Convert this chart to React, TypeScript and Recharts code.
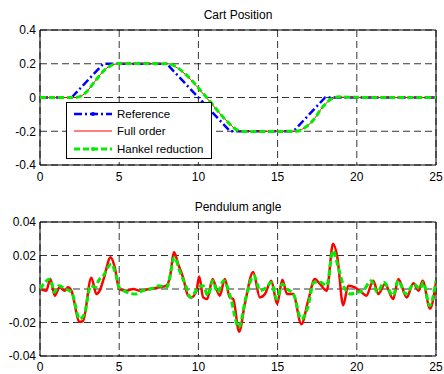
import { CartesianGrid, Line, LineChart, ReferenceArea, XAxis, YAxis } from "recharts";

// time axis ticks
const timeTicks = [0, 5, 10, 15, 20, 25];
const posTicks = [-0.4, -0.2, 0, 0.2, 0.4];
const angleTicks = [-0.04, -0.02, 0, 0.02, 0.04];

// cart position: reference trajectory
const refT = [0, 2, 4, 8, 12, 16, 18, 25];
const refPos = [0, 0, 0.2, 0.2, -0.2, -0.2, 0, 0];

// cart position: closed-loop responses
const respT = [0, 2.2, 2.5, 2.9, 3.5, 4.1, 4.6, 5.0, 8.1, 8.5, 9.2, 10.5, 11.8, 12.4, 12.9, 16.2, 16.6, 17.2, 17.9, 18.4, 18.9, 19.5, 25];
const fullPos = [0, 0, 0.005, 0.03, 0.1, 0.165, 0.195, 0.2, 0.2, 0.185, 0.135, 0, -0.14, -0.19, -0.2, -0.2, -0.185, -0.14, -0.05, -0.01, 0.003, 0, 0];
const hankelPos = [0, 0, 0.005, 0.03, 0.1, 0.165, 0.195, 0.202, 0.2, 0.187, 0.137, 0.002, -0.14, -0.19, -0.202, -0.2, -0.186, -0.14, -0.05, -0.008, 0.004, 0.001, 0];

// pendulum angle
const fullT = [0, 0.4, 0.65, 0.93, 1.24, 1.56, 1.77, 1.98, 2.5, 2.72, 3.24, 3.56, 3.77, 4.02, 4.46, 4.72, 5.0, 5.45, 5.9, 6.3, 6.9, 7.56, 7.98, 8.2, 8.47, 8.72, 9.03, 9.35, 9.56, 9.88, 10.05, 10.3, 10.55, 10.9, 11.14, 11.35, 11.67, 11.98, 12.2, 12.57, 12.93, 13.46, 13.88, 14.2, 14.6, 14.97, 15.3, 15.6, 15.98, 16.5, 16.93, 17.35, 17.67, 18.1, 18.5, 18.77, 19.14, 19.46, 19.88, 20.3, 20.6, 21.04, 21.36, 21.78, 22.3, 22.62, 23.15, 23.57, 23.9, 24.16, 24.62, 25];
const fullAngle = [0, -0.001, 0.006, -0.004, 0.001, -0.001, 0.001, -0.001, -0.0196, -0.019, 0.0067, -0.003, -0.001, 0.006, 0.019, 0.013, 0, -0.001, 0, -0.001, 0, 0.001, 0.002, 0.007, 0.022, 0.015, 0.007, -0.004, -0.005, -0.001, 0.0075, -0.005, -0.006, 0.006, 0, -0.004, 0.006, -0.005, -0.006, -0.0255, -0.009, 0.0101, -0.005, -0.003, 0.005, -0.009, 0.0055, -0.003, -0.003, -0.021, -0.007, 0.006, 0.003, -0.001, 0.027, 0.019, -0.0097, 0.002, 0.001, -0.002, -0.004, 0.005, -0.003, 0.003, -0.006, 0.006, -0.005, 0.0035, -0.001, 0.005, -0.0117, 0.004];

const hankelT = [0, 0.65, 0.9, 1.2, 1.6, 2.0, 2.5, 2.8, 3.2, 3.5, 3.7, 4.0, 4.5, 4.8, 5.0, 5.5, 6.0, 6.5, 7.0, 7.5, 8.0, 8.5, 8.8, 9.2, 9.5, 10.0, 10.3, 10.6, 10.9, 11.2, 11.6, 12.0, 12.55, 13.0, 13.5, 13.9, 14.3, 14.6, 14.95, 15.3, 15.6, 16.0, 16.5, 16.9, 17.3, 17.7, 18.1, 18.5, 18.8, 19.2, 19.6, 20.0, 20.4, 20.9, 21.3, 21.7, 22.3, 22.6, 23.1, 23.6, 24.0, 24.2, 24.6, 25];
const hankelAngle = [0, 0.006, -0.002, 0.002, 0, -0.002, -0.018, -0.015, 0.002, 0.001, 0.005, 0.008, 0.015, 0.008, 0.001, -0.002, -0.003, -0.001, 0, 0.002, 0.001, 0.019, 0.011, 0.002, -0.005, 0.001, 0.002, -0.004, 0.005, -0.002, 0.005, -0.004, -0.023, -0.005, 0.008, -0.001, 0.001, 0.004, -0.006, 0.003, 0, -0.003, -0.018, -0.011, 0.004, 0.004, 0.002, 0.023, 0.014, 0.001, -0.003, -0.002, -0.001, 0.005, -0.002, 0.004, -0.004, 0.005, -0.003, 0.003, 0, 0.004, -0.01, 0.005];

const toPoints = (t: number[], v: number[]) => t.map((x, i) => ({ t: x, v: v[i] }));

const FONT = "'Liberation Sans', Arial, sans-serif";
const tickStyle = { fontSize: 12, fill: "#000", fontFamily: FONT };
const gridDash = "7 4";

const legendItems = [
  { name: "Reference", color: "#0000ff", dash: "8 3 2 3", width: 2.5, dot: true },
  { name: "Full order", color: "#ff0000", dash: undefined, width: 1, dot: false },
  { name: "Hankel reduction", color: "#00ee00", dash: "6 3", width: 3, dot: true },
];

const LegendBox = () => (
  <div
    style={{
      position: "absolute",
      left: 66,
      top: 102,
      width: 146,
      height: 57,
      boxSizing: "border-box",
      border: "1px solid #000",
      background: "#fff",
      fontFamily: FONT,
      fontSize: 11.5,
      color: "#000",
      paddingTop: 2,
    }}
  >
    {legendItems.map((it) => (
      <div key={it.name} style={{ display: "flex", alignItems: "center", height: 17.5 }}>
        <svg width={44} height={10} style={{ marginLeft: 6 }}>
          <line x1={1} y1={5} x2={39} y2={5} stroke={it.color} strokeWidth={it.width} strokeDasharray={it.dash} />
          {it.dot && <circle cx={20} cy={5} r={2} fill={it.color} />}
        </svg>
        <span>{it.name}</span>
      </div>
    ))}
  </div>
);

const Title = ({ text, top }: { text: string; top: number }) => (
  <div
    style={{
      position: "absolute",
      left: 40,
      width: 396,
      top,
      textAlign: "center",
      fontFamily: FONT,
      fontSize: 12,
      color: "#000",
    }}
  >
    {text}
  </div>
);

export default function App() {
  return (
    <div style={{ position: "absolute", left: 0, top: 0, width: 444, height: 374, background: "#fff" }}>
      <Title text="Cart Position" top={8} />
      <div style={{ position: "absolute", left: 0, top: 0 }}>
        <LineChart width={444} height={190} margin={{ top: 30, right: 8, bottom: 0, left: 0 }}>
          <CartesianGrid stroke="#000" strokeDasharray={gridDash} strokeWidth={0.8} />
          <XAxis
            dataKey="t"
            type="number"
            domain={[0, 25]}
            ticks={timeTicks}
            height={25}
            tick={tickStyle}
            tickLine={false}
            tickSize={0}
            tickMargin={7}
            axisLine={false}
            allowDataOverflow
          />
          <YAxis
            type="number"
            domain={[-0.4, 0.4]}
            ticks={posTicks}
            width={40}
            tick={tickStyle}
            tickLine={false}
            tickSize={0}
            tickMargin={4}
            axisLine={false}
            allowDataOverflow
          />
          <ReferenceArea x1={0} x2={25} y1={-0.4} y2={0.4} fill="none" stroke="#000" strokeWidth={1} />
          <Line data={toPoints(refT, refPos)} dataKey="v" type="linear" stroke="#0000ff" strokeWidth={2.5} strokeDasharray="8 3 2 3" dot={false} isAnimationActive={false} />
          <Line data={toPoints(respT, fullPos)} dataKey="v" type="monotone" stroke="#ff0000" strokeWidth={1} dot={false} isAnimationActive={false} />
          <Line data={toPoints(respT, hankelPos)} dataKey="v" type="monotone" stroke="#00ee00" strokeWidth={3} strokeDasharray="6 3" dot={false} isAnimationActive={false} />
        </LineChart>
      </div>
      <LegendBox />
      <Title text="Pendulum angle" top={200} />
      <div style={{ position: "absolute", left: 0, top: 190 }}>
        <LineChart width={444} height={184} margin={{ top: 32, right: 8, bottom: 0, left: 0 }}>
          <CartesianGrid stroke="#000" strokeDasharray={gridDash} strokeWidth={0.8} />
          <XAxis
            dataKey="t"
            type="number"
            domain={[0, 25]}
            ticks={timeTicks}
            height={18}
            tick={tickStyle}
            tickLine={false}
            tickSize={0}
            tickMargin={6}
            axisLine={false}
            allowDataOverflow
          />
          <YAxis
            type="number"
            domain={[-0.04, 0.04]}
            ticks={angleTicks}
            width={40}
            tick={tickStyle}
            tickLine={false}
            tickSize={0}
            tickMargin={4}
            axisLine={false}
            allowDataOverflow
          />
          <ReferenceArea x1={0} x2={25} y1={-0.04} y2={0.04} fill="none" stroke="#000" strokeWidth={1} />
          <Line data={toPoints(fullT, fullAngle)} dataKey="v" type="monotone" stroke="#ff0000" strokeWidth={2.5} dot={false} isAnimationActive={false} />
          <Line data={toPoints(hankelT, hankelAngle)} dataKey="v" type="monotone" stroke="#00ee00" strokeWidth={3} strokeDasharray="6 3" dot={false} isAnimationActive={false} />
        </LineChart>
      </div>
    </div>
  );
}
